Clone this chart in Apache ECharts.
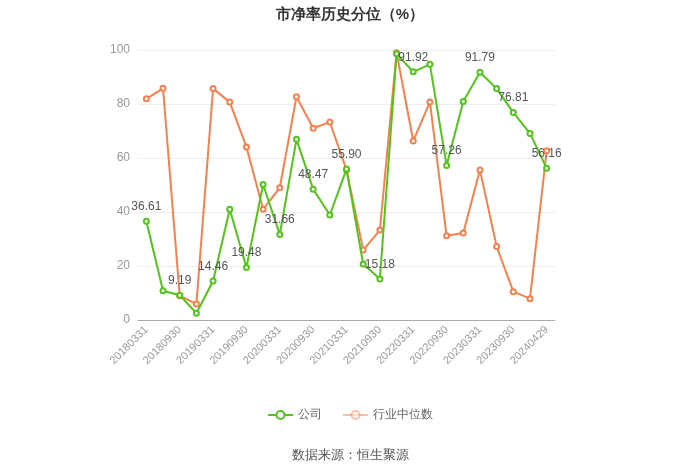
<!DOCTYPE html>
<html>
<head>
<meta charset="utf-8">
<script src="https://cdn.jsdelivr.net/npm/echarts@6/dist/echarts.min.js"></script>
<style>html,body{margin:0;padding:0;background:#fff}#c{width:700px;height:473px}</style>
</head>
<body>
<div id="c"></div>
<script>
const categories = ['20180331','20180630','20180930','20181231','20190331','20190630','20190930','20191231','20200331','20200630','20200930','20201231','20210331','20210630','20210930','20211231','20220331','20220630','20220930','20221231','20230331','20230630','20230930','20231231','20240429'];
const companyValues = [36.61,10.85,9.19,2.5,14.46,41.0,19.48,50.2,31.66,66.9,48.47,38.9,55.90,20.7,15.18,98.6,91.92,94.7,57.26,80.9,91.79,85.7,76.81,69.1,56.16];
const industryValues = [81.9,85.8,9.0,5.9,85.7,80.7,64.1,41.0,49.0,82.7,71.0,73.3,55.6,25.9,33.3,99.0,66.3,80.7,31.2,32.2,55.6,27.2,10.5,7.9,62.7];
const yTicks = [0,20,40,60,80,100];

const chart = echarts.init(document.getElementById('c'));
chart.setOption({
  animation: false,
  title: {
    text: '市净率历史分位（%）',
    left: 'center', top: 2,
    textStyle: {fontSize: 15, fontWeight: 'bold', color: '#333'}
  },
  legend: {
    bottom: 47,
    itemGap: 20,
    itemWidth: 25,
    itemHeight: 10,
    textStyle: {color: '#666', fontSize: 12},
    data: [
      {name: '公司'},
      {name: '行业中位数', itemStyle: {opacity: 0.5}, lineStyle: {opacity: 0.5}}
    ]
  },
  graphic: [{
    type: 'text', left: 'center', top: 449,
    style: {text: '数据来源：恒生聚源', fill: '#555', fontSize: 13}
  }],
  grid: {left: 138, right: 145, top: 50, bottom: 153},
  xAxis: {
    type: 'category',
    data: categories,
    boundaryGap: true,
    axisLine: {lineStyle: {color: '#aaa'}},
    axisTick: {alignWithLabel: true, interval: 1, lineStyle: {color: '#aaa'}},
    axisLabel: {interval: 1, rotate: 45, color: '#999', fontSize: 11}
  },
  yAxis: {
    type: 'value',
    min: yTicks[0], max: yTicks[yTicks.length - 1], interval: 20,
    axisLine: {show: false},
    axisTick: {show: false},
    axisLabel: {color: '#999', fontSize: 12},
    splitLine: {lineStyle: {color: '#eee'}}
  },
  series: [
    {
      name: '公司', type: 'line', data: companyValues,
      symbol: 'emptyCircle', symbolSize: 5,
      itemStyle: {color: '#52c41a'},
      lineStyle: {width: 2, color: '#52c41a'},
      label: {
        show: true, position: 'top', color: '#555', fontSize: 12,
        formatter: p => (p.dataIndex % 2 === 0 ? p.value.toFixed(2) : '')
      },
      z: 3
    },
    {
      name: '行业中位数', type: 'line', data: industryValues,
      symbol: 'emptyCircle', symbolSize: 5,
      itemStyle: {color: '#f5814d'},
      lineStyle: {width: 2, color: '#f5814d'},
      z: 2
    }
  ]
});
</script>
</body>
</html>
